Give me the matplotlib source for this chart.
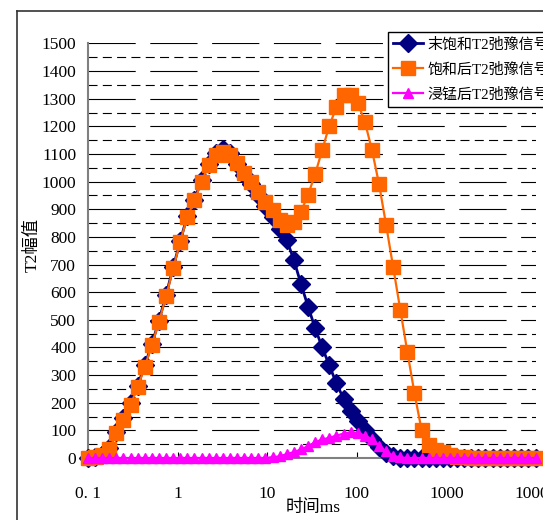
import matplotlib
matplotlib.use("Agg")
import matplotlib.pyplot as plt
from matplotlib.lines import Line2D
from matplotlib.ticker import MultipleLocator, FixedLocator, NullLocator

plt.rcParams["font.family"] = ["Liberation Serif", "Noto Sans CJK SC"]
plt.rcParams["lines.scale_dashes"] = False

# T2 relaxation time grid (ms), 64 log-spaced points
t2_ms = [0.1, 0.12, 0.144, 0.1728, 0.2074, 0.2489, 0.2987, 0.3585,
         0.4302, 0.5163, 0.6196, 0.7436, 0.8924, 1.071, 1.285, 1.543,
         1.851, 2.222, 2.666, 3.2, 3.84, 4.608, 5.53, 6.637,
         7.965, 9.559, 11.47, 13.77, 16.52, 19.83, 23.8, 28.56,
         34.27, 41.13, 49.36, 59.23, 71.09, 85.31, 102.4, 122.9,
         147.5, 177.0, 212.4, 254.9, 305.9, 367.1, 440.5, 528.7,
         634.5, 761.4, 913.8, 1097, 1316, 1579, 1896, 2275,
         2730, 3276, 3932, 4719, 5663, 6796, 8156, 10000]

unsaturated = [0, 3, 12, 35, 95, 145, 200, 262, 335, 412, 497, 590, 690, 785, 877, 935,
               1005, 1063, 1103, 1118, 1102, 1065, 1025, 990, 952, 912, 872, 828, 789, 717, 630, 548,
               470, 400, 335, 270, 215, 170, 135, 100, 68, 40, 18, 6, 0, 0, 0, 0,
               0, 0, 0, 0, 0, 0, 0, 0, 0, 0, 0, 0, 0, 0, 0, 0]

saturated = [0, 2, 10, 31, 89, 137, 192, 256, 330, 409, 493, 585, 686, 783, 873, 932,
             1000, 1060, 1097, 1109, 1097, 1067, 1030, 1000, 964, 928, 898, 860, 843, 855, 891, 952,
             1027, 1115, 1203, 1269, 1314, 1314, 1286, 1217, 1115, 992, 843, 690, 536, 383, 234, 101,
             47, 30, 20, 10, 5, 2, 0, 0, 0, 0, 0, 0, 0, 0, 0, 0]

manganese = [0, 0, 0, 0, 0, 0, 0, 0, 0, 0, 0, 0, 0, 0, 0, 0,
             0, 0, 0, 0, 0, 0, 0, 0, 0, 0, 3, 6, 14, 21, 31, 43,
             57, 67, 73, 81, 88, 93, 91, 81, 67, 45, 24, 8, 2, 0, 0, 0,
             0, 0, 0, 0, 0, 0, 0, 0, 0, 0, 0, 0, 0, 0, 0, 0]

labels = ["末饱和T2弛豫信号", "饱和后T2弛豫信号", "浸锰后T2弛豫信号"]
x_ticks = [0.1, 1, 10, 100, 1000, 10000]
x_ticklabels = ["0. 1", "1", "10", "100", "1000", "10000"]

W, H = 543, 520
fig = plt.figure(figsize=(W / 100, H / 100), dpi=100)
ax = fig.add_axes([88 / W, 1 - 458 / H, 448 / W, 414.5 / H])

ax.plot(t2_ms, unsaturated, color="#000080", lw=2, marker="D", ms=9.5,
        mec="#000080", label=labels[0], clip_on=False, zorder=3)
ax.plot(t2_ms, saturated, color="#FF6600", lw=1.6, marker="s", ms=9.5,
        mec="#FF6600", label=labels[1], clip_on=False, zorder=4)
ax.plot(t2_ms, manganese, color="#FF00FF", lw=1.6, marker="^", ms=7.5,
        mec="#FF00FF", label=labels[2], clip_on=False, zorder=5)

ax.set_xscale("log")
ax.set_xlim(0.1, 10000)
ax.set_ylim(0, 1500)
ax.xaxis.set_major_locator(FixedLocator(x_ticks))
ax.set_xticklabels(x_ticklabels)
ax.xaxis.set_minor_locator(NullLocator())
ax.yaxis.set_major_locator(MultipleLocator(100))
ax.yaxis.set_minor_locator(MultipleLocator(50))

ax.tick_params(axis="x", which="major", direction="in", length=4.5, width=0.8,
               pad=20, labelsize=12.5)
ax.tick_params(axis="y", which="both", length=0, pad=8.5, labelsize=12.5)

ax.set_axisbelow(True)
ax.grid(axis="y", which="major", color="black", lw=0.8, linestyle=(0, (34, 10.5)))
ax.grid(axis="y", which="minor", color="black", lw=0.8, linestyle=(0, (6.5, 3.8)))
ax.grid(axis="x", which="both", visible=False)

for side in ["top", "right"]:
    ax.spines[side].set_visible(False)
for side in ["left", "bottom"]:
    ax.spines[side].set_color("#808080")
    ax.spines[side].set_linewidth(1.5)

fig.text(33 / W, 1 - 245 / H, "T2幅值", rotation=90, ha="center", va="center", fontsize=12.5)
fig.text(313 / W, 1 - 508 / H, "时间ms", ha="center", va="center", fontsize=12.5)

# legend runs off the right edge, as in the original crop
leg = ax.legend(loc="upper left", bbox_to_anchor=(388 / W, 1 - 32 / H),
                bbox_transform=fig.transFigure, borderaxespad=0, fancybox=False,
                framealpha=1, edgecolor="black", fontsize=10.8, handlelength=2.0,
                handletextpad=0.3, borderpad=0.35, labelspacing=0.72)
leg.get_frame().set_linewidth(1)
leg.set_zorder(10)

# outer chart border, cropped on the right and bottom
fig.add_artist(Line2D([17 / W, 17 / W], [0, 1 - 11 / H], color="#333333", lw=1.2))
fig.add_artist(Line2D([17 / W, 1], [1 - 11 / H, 1 - 11 / H], color="#333333", lw=1.2))

fig.savefig("out.png", dpi=100)
